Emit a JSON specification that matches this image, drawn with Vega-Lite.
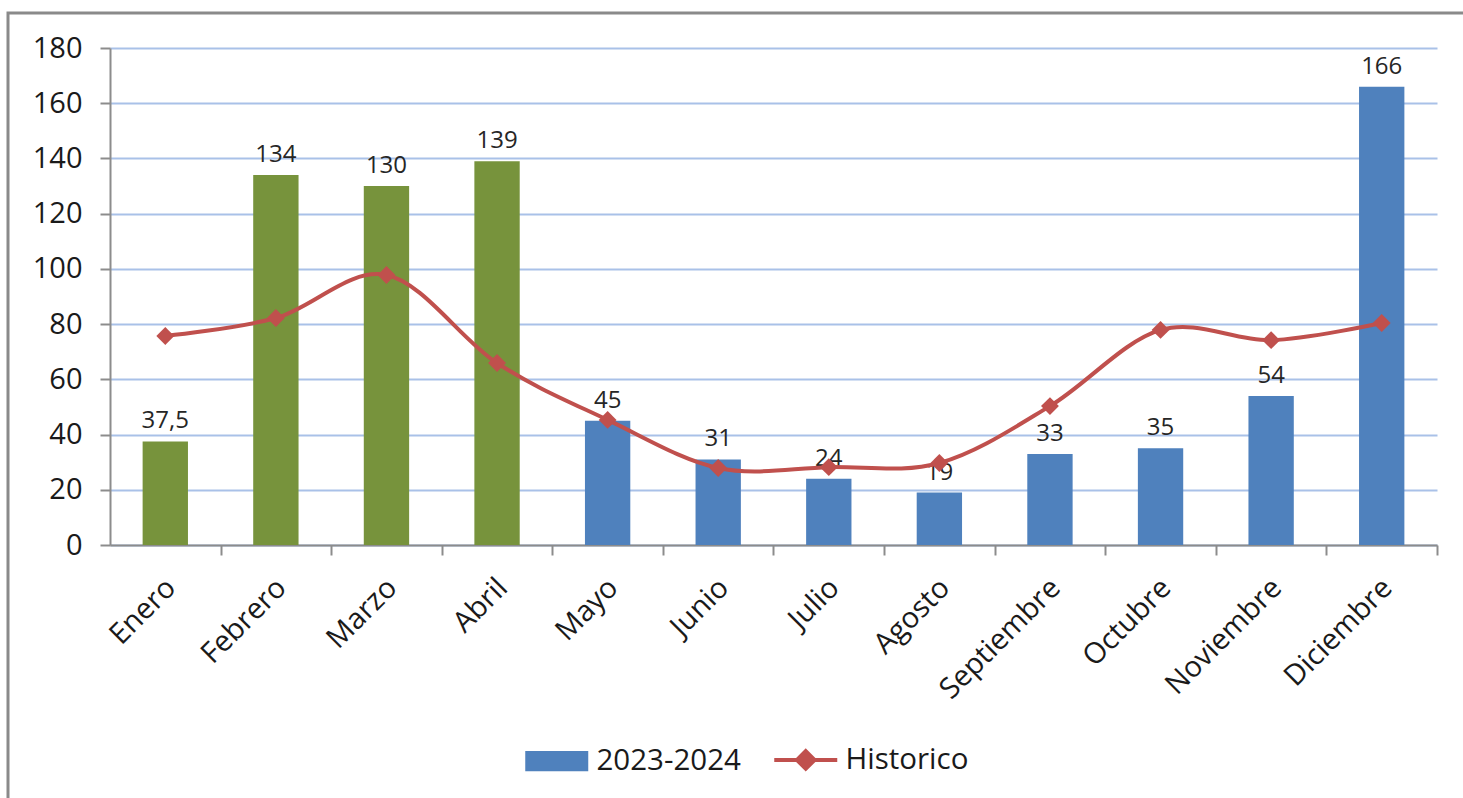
{
  "$schema": "https://vega.github.io/schema/vega-lite/v6.json",
  "width": 1455,
  "height": 785,
  "autosize": {"type": "none"},
  "padding": {"left": 8, "top": 13, "right": 0, "bottom": 0},
  "background": "white",
  "config": {
    "view": {"stroke": "#8a8a8a", "strokeWidth": 3, "strokeDash": [1455, 2240, 785]},
    "font": "Open Sans",
    "locale": {"number": {"decimal": ",", "thousands": ".", "grouping": [3], "currency": ["", " €"]}}
  },
  "data": {
    "values": [
      {"mes": "Enero", "anio": 2024, "valor": 37.5, "historico": 75.7},
      {"mes": "Febrero", "anio": 2024, "valor": 134, "historico": 82.2},
      {"mes": "Marzo", "anio": 2024, "valor": 130, "historico": 97.8},
      {"mes": "Abril", "anio": 2024, "valor": 139, "historico": 65.9},
      {"mes": "Mayo", "anio": 2023, "valor": 45, "historico": 45.3},
      {"mes": "Junio", "anio": 2023, "valor": 31, "historico": 27.9},
      {"mes": "Julio", "anio": 2023, "valor": 24, "historico": 28.2},
      {"mes": "Agosto", "anio": 2023, "valor": 19, "historico": 29.7},
      {"mes": "Septiembre", "anio": 2023, "valor": 33, "historico": 50.3},
      {"mes": "Octubre", "anio": 2023, "valor": 35, "historico": 77.9},
      {"mes": "Noviembre", "anio": 2023, "valor": 54, "historico": 74.2},
      {"mes": "Diciembre", "anio": 2023, "valor": 166, "historico": 80.4}
    ]
  },
  "encoding": {
    "x": {
      "field": "mes", "type": "nominal", "sort": null,
      "scale": {"range": [102, 1429], "paddingInner": 0.59, "paddingOuter": 0.295},
      "axis": {
        "title": null, "labelAngle": -45, "labelFontSize": 29, "labelColor": "#1a1a1a",
        "labelPadding": 18, "domainColor": "#8c8c8c", "domainWidth": 2, "offset": -253,
        "tickColor": "#8c8c8c", "tickWidth": 2, "tickSize": 10,
        "tickOffset": 55.29, "labelOffset": -60, "grid": false
      }
    }
  },
  "layer": [
    {
      "mark": {"type": "bar"},
      "encoding": {
        "y": {
          "field": "valor", "type": "quantitative",
          "scale": {"domain": [0, 180], "nice": false, "range": [532, 35]},
          "axis": {
            "title": null, "values": [0, 20, 40, 60, 80, 100, 120, 140, 160, 180],
            "labelFontSize": 29, "labelColor": "#1a1a1a", "labelPadding": 18, "offset": -102,
            "tickSize": 10, "tickColor": "#8c8c8c", "tickWidth": 2,
            "domainColor": "#8c8c8c", "domainWidth": 2,
            "grid": true, "gridColor": "#A9C1E8", "gridWidth": 2
          }
        },
        "color": {
          "datum": "2023-2024", "type": "nominal",
          "condition": {"test": "datum.anio == 2024", "value": "#77933C"},
          "scale": {"domain": ["2023-2024", "Historico"], "range": ["#4F81BD", "#C0504D"]},
          "legend": {
            "title": null, "orient": "none", "legendX": 534, "legendY": 732, "direction": "horizontal",
            "labelFont": "Open Sans", "labelFontSize": 29.5, "labelColor": "#1a1a1a",
            "symbolSize": 3969, "labelOffset": 25, "columnPadding": 25,
            "symbolType": "M-1,-0.32H1V0.32H-1Z",
            "encode": {
              "symbols": {
                "update": {
                  "shape": {"signal": "datum.value === 'Historico' ? 'M-1,0H1M0,-0.28L0.28,0L0,0.28L-0.28,0Z' : 'M-1,-0.32H1V0.32H-1Z'"},
                  "fill": {"signal": "datum.value === 'Historico' ? '#C0504D' : '#4F81BD'"},
                  "stroke": {"signal": "datum.value === 'Historico' ? '#C0504D' : '#4F81BD'"},
                  "strokeWidth": {"signal": "datum.value === 'Historico' ? 4 : 0"},
                  "opacity": {"value": 1},
                  "fillOpacity": {"value": 1}
                }
              }
            }
          }
        }
      }
    },
    {
      "mark": {"type": "text", "baseline": "bottom", "dy": -8, "fontSize": 24, "color": "#262626"},
      "encoding": {
        "y": {"field": "valor", "type": "quantitative"},
        "text": {"field": "valor", "type": "quantitative", "format": ".4~g"}
      }
    },
    {
      "mark": {
        "type": "line", "interpolate": "cardinal", "strokeWidth": 4,
        "point": {"shape": "diamond", "size": 320, "filled": true, "opacity": 1}
      },
      "encoding": {
        "y": {"field": "historico", "type": "quantitative"},
        "color": {"datum": "Historico", "type": "nominal"}
      }
    }
  ]
}
